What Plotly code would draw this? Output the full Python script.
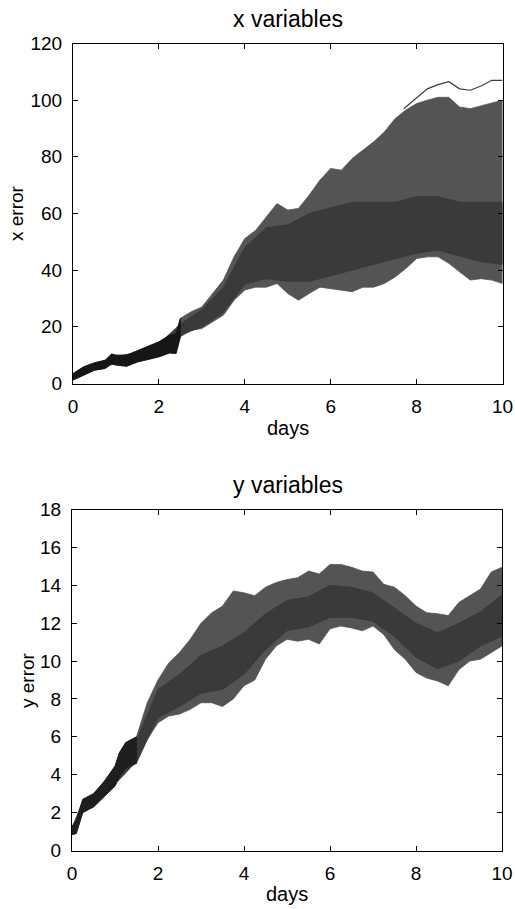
import plotly.graph_objects as go

W, H = 515, 909
FONT = "Liberation Sans, Arial, Helvetica, sans-serif"

# ---------- x variables (top panel) ----------
x_days = [0, 0.1, 0.25, 0.5, 0.75, 0.9, 1.0, 1.25, 1.5, 1.75, 2.0, 2.25, 2.4, 2.5,
          2.75, 3.0, 3.25, 3.5, 3.75, 4.0, 4.25, 4.5, 4.75, 5.0, 5.25, 5.5, 5.75, 6.0,
          6.25, 6.5, 6.75, 7.0, 7.25, 7.5, 7.75, 8.0, 8.25, 8.5, 8.75, 9.0, 9.25, 9.5,
          9.75, 10]
x_upper = [3.5, 4.5, 5.9, 7.3, 8.2, 10.4, 10.0, 10.0, 11.5, 13.0, 14.7, 17.0, 17.6, 23.0,
           25.3, 27.0, 31.8, 36.5, 44.7, 51.2, 54.0, 58.8, 63.5, 61.2, 61.8, 66.5, 71.8, 75.9,
           75.3, 79.4, 82.4, 85.3, 88.8, 93.5, 96.5, 98.8, 100, 101, 101, 97.6, 97.0, 98.0,
           98.8, 100]
x_lower = [1.2, 2.0, 3.0, 4.7, 5.3, 7.0, 6.5, 6.1, 7.6, 8.5, 9.4, 10.8, 10.6, 16.5,
           18.8, 19.4, 21.8, 24.1, 29.4, 33.0, 34.0, 34.0, 35.3, 31.8, 29.4, 31.8, 34.0, 33.5,
           33.0, 32.4, 34.0, 34.0, 35.3, 37.6, 40.6, 44.1, 44.7, 44.7, 42.4, 39.4, 36.5, 37.0,
           36.5, 35.3]

x_core_days = [0, 0.5, 1, 1.5, 2, 2.5, 3, 3.5, 4, 4.5, 5, 5.5, 6, 6.5, 7, 7.5, 8, 8.5, 9, 9.5, 10]
x_core_hi = [3.0, 7.0, 9.5, 11, 14, 21, 26, 34, 48, 55, 56, 60, 62, 64, 64, 64, 66, 66, 64, 64, 64]
x_core_lo = [1.5, 5.0, 7, 8, 10, 17, 20, 25, 35, 37, 36, 36, 38, 40, 42, 44, 46, 47, 45, 43, 42]

x_out_days = [7.7, 8.0, 8.25, 8.5, 8.75, 9.0, 9.25, 9.5, 9.75, 10]
x_out_vals = [97, 101, 104, 105.5, 106.5, 104, 103.5, 105, 107, 107]

# ---------- y variables (bottom panel) ----------
y_days = [0, 0.1, 0.25, 0.5, 0.75, 1.0, 1.1, 1.25, 1.5, 1.75, 2.0, 2.25, 2.5, 2.75, 3.0,
          3.25, 3.5, 3.75, 4.0, 4.25, 4.5, 4.75, 5.0, 5.25, 5.5, 5.75, 6.0, 6.25, 6.5, 6.75,
          7.0, 7.25, 7.5, 7.75, 8.0, 8.25, 8.5, 8.75, 9.0, 9.25, 9.5, 9.75, 10]
y_upper = [1.27, 1.6, 2.7, 3.0, 3.65, 4.45, 5.15, 5.7, 6.0, 7.8, 9.0, 9.9, 10.45, 11.15, 12.0,
           12.55, 12.9, 13.7, 13.6, 13.45, 13.9, 14.15, 14.3, 14.4, 14.75, 14.6, 15.1, 15.1, 14.95, 14.75,
           14.7, 14.05, 13.9, 13.45, 12.9, 12.55, 12.5, 12.4, 13.1, 13.45, 13.8, 14.7, 14.95]
y_lower = [0.83, 0.9, 2.0, 2.3, 2.85, 3.4, 3.9, 4.35, 4.6, 5.86, 6.74, 7.1, 7.2, 7.45, 7.8,
           7.8, 7.6, 8.0, 8.7, 9.0, 10.1, 10.8, 11.15, 11.05, 11.15, 10.9, 11.7, 11.85, 11.75, 11.6,
           11.85, 11.4, 10.6, 10.1, 9.4, 9.1, 8.95, 8.7, 9.55, 10.0, 10.1, 10.45, 10.8]

y_core_days = [0, 0.25, 0.5, 1, 1.5, 2, 2.5, 3, 3.5, 4, 4.5, 5, 5.5, 6, 6.5, 7, 7.5, 8, 8.5, 9, 9.5, 10]
y_core_hi = [1.2, 2.6, 2.9, 4.3, 5.8, 8.5, 9.3, 10.3, 10.8, 11.5, 12.5, 13.2, 13.4, 14.0, 13.9, 13.6,
             12.8, 12.0, 11.5, 12.0, 12.6, 13.5]
y_core_lo = [0.9, 2.1, 2.4, 3.5, 4.7, 7.0, 7.6, 8.3, 8.5, 9.3, 10.6, 11.6, 11.8, 12.3, 12.3, 12.1,
             11.3, 10.2, 9.6, 10.0, 10.8, 11.3]

x_ticks = [0, 2, 4, 6, 8, 10]
xerr_ticks = [0, 20, 40, 60, 80, 100, 120]
yerr_ticks = [0, 2, 4, 6, 8, 10, 12, 14, 16, 18]

BAND = "rgb(84,84,84)"
CORE = "rgb(58,58,58)"
EARLY = "rgb(22,22,22)"
N_EARLY_X = 14   # samples of the x panel up to day 2.5, drawn nearly black
N_EARLY_Y = 9    # samples of the y panel up to day 1.5


def band(days, lo, hi, color, xa, ya):
    return go.Scatter(x=list(days) + list(days)[::-1], y=list(hi) + list(lo)[::-1],
                      fill="toself", fillcolor=color, mode="lines",
                      line=dict(width=0.8, color=color), hoverinfo="skip",
                      showlegend=False, xaxis=xa, yaxis=ya)


fig = go.Figure()
fig.add_trace(band(x_days, x_lower, x_upper, BAND, "x", "y"))
fig.add_trace(band(x_core_days, x_core_lo, x_core_hi, CORE, "x", "y"))
fig.add_trace(band(x_days[:N_EARLY_X], x_lower[:N_EARLY_X], x_upper[:N_EARLY_X], EARLY, "x", "y"))
fig.add_trace(go.Scatter(x=x_out_days, y=x_out_vals, mode="lines",
                         line=dict(color="rgb(60,60,60)", width=1.2), hoverinfo="skip",
                         showlegend=False, xaxis="x", yaxis="y"))
fig.add_trace(band(y_days, y_lower, y_upper, BAND, "x2", "y2"))
fig.add_trace(band(y_core_days, y_core_lo, y_core_hi, CORE, "x2", "y2"))
fig.add_trace(band(y_days[:N_EARLY_Y], y_lower[:N_EARLY_Y], y_upper[:N_EARLY_Y], "rgb(30,30,30)", "x2", "y2"))


def px_x(p):
    return p / W


def px_y(p):
    return 1 - p / H


axis_common = dict(showline=True, linecolor="black", linewidth=1, mirror="ticks",
                   ticks="inside", ticklen=5, tickcolor="black", showgrid=False,
                   zeroline=False, automargin=False,
                   tickfont=dict(family=FONT, size=19, color="black"))

fig.update_layout(
    width=W, height=H, margin=dict(l=0, r=0, t=0, b=0, autoexpand=False),
    paper_bgcolor="white", plot_bgcolor="white", showlegend=False,
    xaxis=dict(domain=[px_x(73), px_x(502.5)], range=[0, 10], tickvals=x_ticks,
               anchor="y", ticklabelstandoff=6, **axis_common),
    yaxis=dict(domain=[px_y(383.5), px_y(43.5)], range=[0, 120], tickvals=xerr_ticks,
               anchor="x", ticklabelstandoff=6, **axis_common),
    xaxis2=dict(domain=[px_x(72), px_x(502)], range=[0, 10], tickvals=x_ticks,
                anchor="y2", ticklabelstandoff=6, **axis_common),
    yaxis2=dict(domain=[px_y(850.5), px_y(509.5)], range=[0, 18], tickvals=yerr_ticks,
                anchor="x2", ticklabelstandoff=6, **axis_common),
)

ann = []


def label(text, xp, yp, size, angle=0):
    ann.append(dict(text=text, x=px_x(xp), y=px_y(yp), xref="paper", yref="paper",
                    xanchor="center", yanchor="middle", showarrow=False, textangle=angle,
                    font=dict(family=FONT, size=size, color="black")))


label("x variables", 288, 19, 23)
label("days", 288, 428, 20)
label("x error", 16, 213, 19, -90)
label("y variables", 288, 485, 23)
label("days", 287, 894, 20)
label("y error", 27, 680, 19, -90)
fig.update_layout(annotations=ann)

fig.write_html(
    "out.html",
    config={"displayModeBar": False},
    post_script="document.body.style.margin='0';document.body.style.padding='0';"
                "document.body.style.overflow='hidden';"
                "document.querySelectorAll('.main-svg').forEach(function(s){s.style.overflow='visible';});",
)
